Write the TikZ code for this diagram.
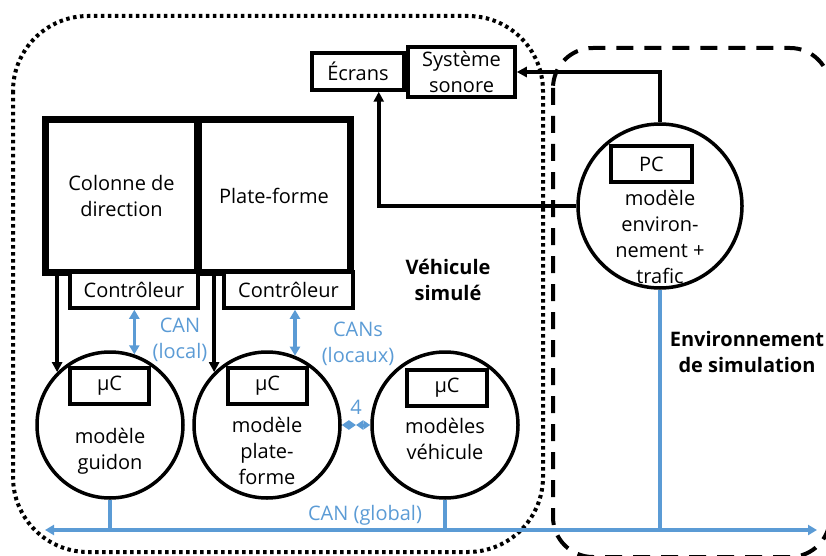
\documentclass[tikz,border=0pt]{standalone}
\usepackage{fontspec}
\setmainfont{Open Sans}
\usetikzlibrary{arrows.meta,calc}
\definecolor{canblue}{RGB}{91,155,213}
\begin{document}
\begin{tikzpicture}[x=1pt,y=-1pt,
  every node/.style={font=\fontsize{20}{26}\selectfont, align=center, inner sep=0pt},
  thickbox/.style={draw, line width=7pt, minimum width=152pt, minimum height=152pt},
  thinbox/.style={draw, line width=3.5pt},
  model/.style={draw, circle, line width=3.5pt, minimum size=146pt},
  arr/.style={line width=3.5pt, -{Triangle[length=10pt,width=10pt]}},
  barr/.style={canblue, line width=3.5pt, {Triangle[length=9pt,width=10pt]}-{Triangle[length=9pt,width=10pt]}},
  smallbarr/.style={canblue, line width=3pt, {Triangle[length=7pt,width=9pt]}-{Triangle[length=7pt,width=9pt]}},
  bline/.style={canblue, line width=3.5pt},
  blabel/.style={text=canblue},
  group/.style={font=\fontsize{20}{26}\selectfont\bfseries}
]
\useasboundingbox (0,0) rectangle (826,556);
% regions
\draw[line width=4pt, dash pattern=on 3.5pt off 3.5pt, rounded corners=75pt] (13,16) rectangle (543,552);
\draw[line width=4pt, dash pattern=on 17pt off 11pt, rounded corners=40pt] (553,48) rectangle (830,557);

% big boxes
\node[thickbox] (col) at (121.5,196) {Colonne de\\direction};
\node[thickbox] (pf) at (274,196) {Plate-forme};
\node[thinbox, minimum width=128pt, minimum height=36pt, fill=white] (ctrl1) at (134,290) {Contrôleur};
\node[thinbox, minimum width=129pt, minimum height=36pt, fill=white] (ctrl2) at (288.5,290) {Contrôleur};

% model circles
\node[model] (c1) at (110,425) {};
\node[model] (c2) at (267,425) {};
\node[model] (c3) at (445,425) {};
\node[thinbox, minimum width=79pt, minimum height=36pt] (mu1) at (109.5,386) {µC};
\node[thinbox, minimum width=79pt, minimum height=36pt] (mu2) at (267.5,386) {µC};
\node[thinbox, minimum width=80pt, minimum height=36pt] (mu3) at (447,388) {µC};
\node (t1) at (110,451) {modèle\\guidon};
\node (t2) at (267,451) {modèle\\plate-\\forme};
\node (t3) at (445,439) {modèles\\véhicule};

% PC
\node[model, minimum size=164pt] (pc) at (660,206) {};
\node[thinbox, minimum width=81pt, minimum height=36pt] (pcb) at (651.5,164) {PC};
\node (tpc) at (660,237) {modèle\\environ-\\nement +\\trafic};

% outputs
\node[thinbox, minimum width=92pt, minimum height=37pt] (ecr) at (358,71.5) {Écrans};
\node[thinbox, minimum width=107pt, minimum height=50pt] (son) at (461.5,72) {Système\\sonore};

% labels
\node[group] (lveh) at (448,280) {Véhicule\\simulé};
\node[group] (lenv) at (747,352) {Environnement\\de simulation};
\node[blabel] (lcan1) at (180,340) {CAN\\(local)};
\node[blabel] (lcan2) at (358,344) {CANs\\(locaux)};
\node[blabel] (lfour) at (356,407) {4};
\node[blabel] (lglob) at (365,515) {CAN (global)};

% black arrows
\draw[arr] (pc.north) |- (son.east);
\coordinate (ecrin) at ([xshift=-27pt]ecr.south east);
\draw[arr] (pc.west) -| (ecrin);
\draw[arr] (c1.north west |- col.south) -- (c1.north west);
\draw[arr] (c2.north west |- pf.south) -- (c2.north west);

% blue local CAN
\draw[barr] (c1.71 |- ctrl1.south) -- (c1.71);
\draw[barr] (c2.68 |- ctrl2.south) -- (c2.68);
\coordinate (mid4) at ($(c2.east)!0.5!(c3.west)$);
\draw[smallbarr] (c2.east) -- (mid4);
\draw[smallbarr] (mid4) -- (c3.west);

% global CAN
\coordinate (busL) at (45,530);
\coordinate (busR) at (817,530);
\draw[barr] (busL) -- (busR);
\draw[bline] (c1.south) -- (c1.south |- busL);
\draw[bline] (c3.south) -- (c3.south |- busL);
\draw[bline] (pc.south) -- (pc.south |- busL);
\end{tikzpicture}
\end{document}
